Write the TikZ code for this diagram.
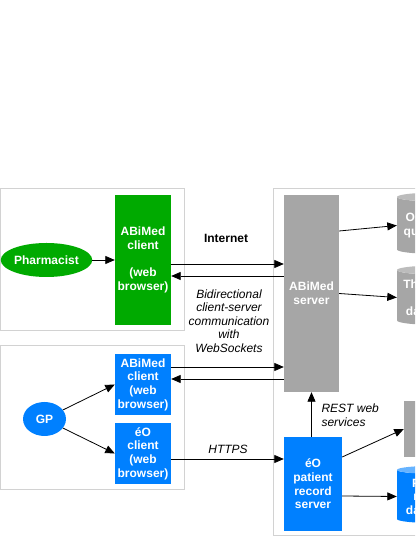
\documentclass[tikz,border=0pt]{standalone}
\usepackage{fontspec}
\setmainfont{Liberation Sans}
\usetikzlibrary{positioning}
\usetikzlibrary{arrows.meta,shapes.geometric}

\definecolor{abgreen}{RGB}{0,170,0}
\definecolor{abblue}{RGB}{0,128,255}
\definecolor{abgray}{RGB}{166,166,166}
\definecolor{abframe}{RGB}{210,210,210}

\begin{document}
\begin{tikzpicture}[x=1pt,y=1pt,
  txt/.style={font=\fontsize{12}{13.6}\selectfont},
  box/.style={txt,font=\bfseries\fontsize{12}{13.6}\selectfont,text=white,align=center,
    minimum width=56pt,inner sep=0pt},
  actor/.style={box,ellipse},
  db/.style={box,cylinder,shape border rotate=90,aspect=0.15,cylinder uses custom fill,minimum width=70pt},
  note/.style={txt,font=\itshape\fontsize{12}{13.6}\selectfont,align=center},
  link/.style={-{Triangle[length=9.5pt,width=8pt]},line width=0.8pt},
  frame/.style={draw=abframe,line width=1pt}]
\useasboundingbox (0,0) rectangle (415,537);
\clip (0,0) rectangle (415,537);

% frames
\draw[frame] (0.5,206) rectangle (184,348);
\draw[frame] (0.5,47) rectangle (184,191);
\draw[frame] (273.5,1) rectangle (440,348);

% pharmacist side
\node[actor,fill=abgreen,minimum width=85pt,minimum height=34pt] (pharm) at (46.5,277) {Pharmacist};
\node[box,fill=abgreen,minimum height=130pt] (cli1) at (143,277) {ABiMed\\client\\[13.6pt](web\\browser)};

% GP side
\node[actor,fill=abblue,minimum width=43pt,minimum height=34pt] (gp) at (44.5,118) {GP};
\node[box,fill=abblue,minimum height=61pt] (cli2) at (143,152.5) {ABiMed\\client\\(web\\browser)};
\node[box,fill=abblue,minimum height=61pt] (cli3) at (143,83.5) {éO\\client\\(web\\browser)};

% servers
\node[box,fill=abgray,minimum width=55pt,minimum height=197pt] (srv) at (311.5,243.5) {ABiMed\\server};
\node[box,fill=abblue,minimum width=58pt,minimum height=94pt] (eos) at (313,53) {éO\\patient\\record\\server};

% data sources (cut by the right edge)
\node[db,cylinder body fill=abgray,cylinder end fill=abgray!75!white,minimum height=61pt] (db1) at (432,311.5) {Ontology\\questions};
\node[db,cylinder body fill=abgray,cylinder end fill=abgray!75!white,minimum height=59pt] (db2) at (432,239.5) {Thériaque\\drug\\database};
\node[box,fill=abgray,minimum height=56pt] (ext) at (432,108) {};
\node[db,cylinder body fill=abblue,cylinder end fill=abblue!60!white,minimum height=57pt] (db3) at (432,40.5) {Patient\\record\\database};

% connectors
\draw[link] (pharm) -- (cli1);
\draw[link] (gp) -- (cli2.west);
\draw[link] (gp) -- (cli3.west);
\draw[link] ([yshift=-4pt]cli1.east) -- ([yshift=-4pt]cli1.east -| srv.west);
\draw[link] ([yshift=-16pt]cli1.east -| srv.west) -- ([yshift=-16pt]cli1.east);
\draw[link] ([yshift=17.5pt]cli2.east) -- ([yshift=17.5pt]cli2.east -| srv.west);
\draw[link] ([yshift=5.5pt]cli2.east -| srv.west) -- ([yshift=5.5pt]cli2.east);
\draw[link] ([yshift=-5.5pt]cli3.east) -- ([yshift=-5.5pt]cli3.east -| eos.west);
\draw[link] (srv.south |- eos.north) -- (srv.south);
\draw[link] ([yshift=62.5pt]srv.east) -- (db1.west);
\draw[link] (srv.east) -- (db2.west);
\draw[link] ([yshift=27pt]eos.east) -- (ext.west);
\draw[link] ([yshift=-12pt]eos.east) -- (db3.west);

% labels
\node[txt,font=\bfseries\fontsize{12}{13.6}\selectfont] (inet) at (226,299) {Internet};
\node[note] (ws) at (229,216) {Bidirectional\\client-server\\communication\\with\\WebSockets};
\node[note] (https) at (228,88) {HTTPS};
\node[note,align=left,anchor=west] (rest) at (318,121.5) {REST web\\services};
\end{tikzpicture}
\end{document}
